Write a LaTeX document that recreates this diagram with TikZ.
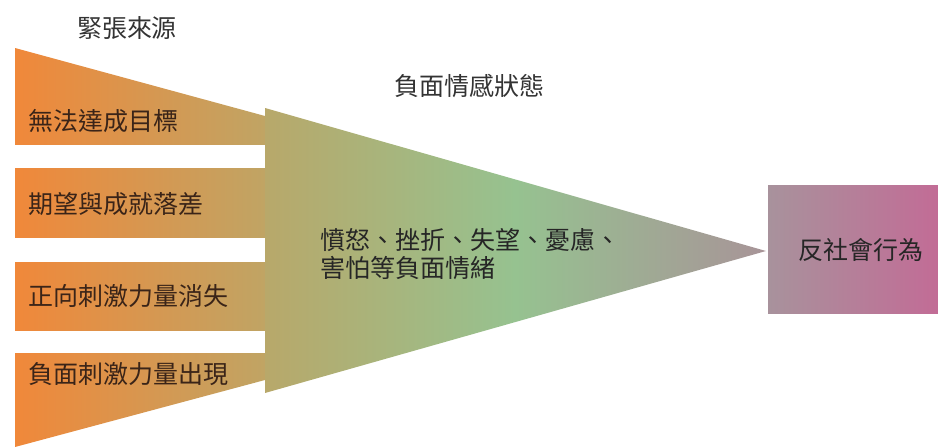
\documentclass[tikz,border=0pt]{standalone}
\usepackage{fontspec}
\newfontfamily\cjk{Noto Sans CJK TC}
\definecolor{txt}{HTML}{333333}
\definecolor{rowtxt}{HTML}{3A2418}
\definecolor{orgL}{RGB}{240,136,58}
\definecolor{orgR}{RGB}{192,164,100}
\definecolor{triL}{RGB}{184,168,106}
\definecolor{triM}{RGB}{150,194,144}
\definecolor{triR}{RGB}{168,148,152}
\definecolor{boxL}{RGB}{168,146,156}
\definecolor{boxR}{RGB}{194,108,150}
\tikzset{
  lbl/.style={font=\cjk\fontsize{25}{28}\selectfont, text=txt, inner sep=0pt},
  rowlbl/.style={font=\cjk\fontsize{25}{28}\selectfont, text=rowtxt, inner sep=0pt, anchor=west},
}
\begin{document}
\begin{tikzpicture}[x=1pt,y=-1pt]
\useasboundingbox (0,0) rectangle (938,447);
% left wedge
\shade[left color=orgL, right color=orgR] (15,48) -- (265,116) -- (265,380) -- (15,447) -- cycle;
% white gaps between rows
\fill[white] (10,145) rectangle (265,168);
\fill[white] (10,238) rectangle (265,262);
\fill[white] (10,331) rectangle (265,353);
% triangle
\shade[left color=triL, right color=triR, middle color=triM] (265,108) -- (766,251) -- (265,393) -- cycle;
% right box
\shade[left color=boxL, right color=boxR] (768,185) rectangle (938,313);
% labels
\node[lbl] (title) at (127,28) {緊張來源};
\node[lbl] (state) at (469,86) {負面情感狀態};
\node[rowlbl] (r1) at (28,121) {無法達成目標};
\node[rowlbl] (r2) at (28,204) {期望與成就落差};
\node[rowlbl] (r3) at (28,296) {正向刺激力量消失};
\node[rowlbl] (r4) at (28,374) {負面刺激力量出現};
\node[lbl, text=black!85, anchor=west, align=left, font=\cjk\fontsize{25}{27.5}\selectfont] (emo) at (320,254) {憤怒、挫折、失望、憂慮、\\害怕等負面情緒};
\node[lbl, text=black!85] (anti) at (861,250) {反社會行為};
\end{tikzpicture}
\end{document}
